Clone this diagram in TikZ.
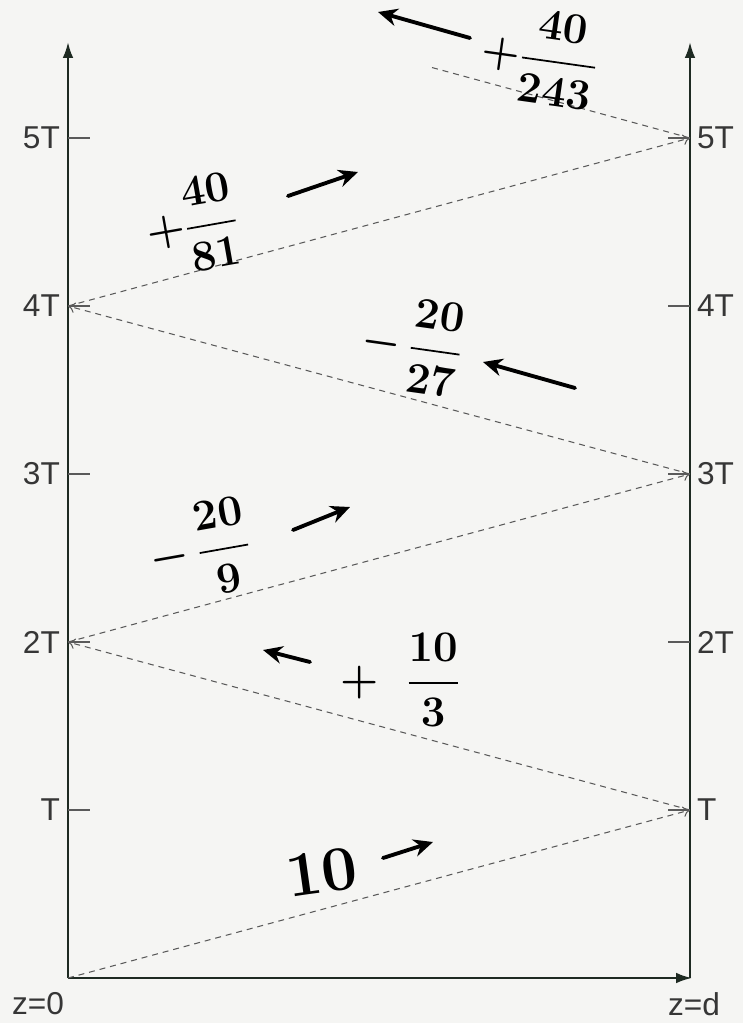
\documentclass[tikz,border=0pt]{standalone}
\usepackage{fontspec}
\setmainfont{Liberation Sans}
\usepackage{amsmath}
\usetikzlibrary{arrows.meta}
\definecolor{assi}{HTML}{1E2A22}
\definecolor{grigio}{HTML}{5A5A5A}
\definecolor{sfondo}{HTML}{F5F5F3}
\tikzset{
  asse/.style={line width=1.3pt, color=assi, -{Latex[length=9pt,width=6pt]}},
  raggio/.style={line width=0.6pt, color=grigio, dash pattern=on 3.4pt off 2.8pt},
  punta/.style={-{To[length=4pt,width=6pt]}},
  freccia/.style={line width=2.2pt, line cap=round, -{Stealth[length=11pt,width=10pt]}},
  tacca/.style={font=\fontsize{18}{20}\selectfont, color=grigio!60!black, inner sep=1pt},
  valore/.style={font=\fontsize{24}{28}\selectfont\boldmath, inner sep=0pt}
}
\begin{document}
\begin{tikzpicture}[x=0.02cm,y=-0.02cm]
        \fill[sfondo] (0,0) rectangle (743,1023);
        \useasboundingbox (0,0) rectangle (743,1023);
        % Assi
        \coordinate (O) at (68,978);
        \coordinate (D) at (692,978);
        \coordinate (Ltop) at (68,42);
        \coordinate (Rtop) at (690,42);
        \draw[asse] (O) -- (Ltop);
        \draw[asse] (690,978) -- (Rtop);
        \draw[asse] (O) -- (D);
        \node[tacca, anchor=north] (z0) at (38,990) {z=0};
        \node[tacca, anchor=north] (zd) at (694,990) {z=d};
        % Tacche e etichette dei tempi
        \foreach \k/\lab in {1/T,2/2T,3/3T,4/4T,5/5T} {
                \pgfmathsetmacro\yy{978-\k*168}
                \coordinate (L\k) at (68,\yy);
                \coordinate (R\k) at (690,\yy);
                \draw[line width=1pt, color=grigio] (L\k) -- ++(22,0);
                \draw[line width=1pt, color=grigio] (R\k) -- ++(-22,0);
                \node[tacca, anchor=east] (sx\k) at (62,\yy) {\lab};
                \node[tacca, anchor=west] (dx\k) at (695,\yy) {\lab};
            }
        % Raggi riflessi
        \coordinate (C) at (430,67);
        \draw[raggio, punta] (O) -- (R1);
        \draw[raggio, punta] (R1) -- (L2);
        \draw[raggio, punta] (L2) -- (R3);
        \draw[raggio, punta] (R3) -- (L4);
        \draw[raggio, punta] (L4) -- (R5);
        \draw[raggio] (R5) -- (C);
        % Valori dell'onda
        \node[valore, scale=1.45, rotate=8] (v1) at (322,872) {$10$};
        \draw[freccia] (383,858) -- (433,842);
        \node[valore] (v2) at (400,680) {$+\;\;\dfrac{10}{3}$};
        \draw[freccia] (310,662) -- (263,650);
        \node[valore, rotate=10] (v3) at (200,550) {$-\,\dfrac{20}{9}$};
        \draw[freccia] (293,530) -- (350,507);
        \node[valore, rotate=-8] (v4) at (412,345) {$-\,\dfrac{20}{27}$};
        \draw[freccia] (575,388) -- (483,362);
        \node[valore, rotate=10] (v5) at (192,225) {$+\dfrac{40}{81}$};
        \draw[freccia] (288,196) -- (358,172);
        \node[valore, rotate=-8] (v6) at (540,57) {$+\dfrac{40}{243}$};
        \draw[freccia] (470,38) -- (378,12);
    \end{tikzpicture}
\end{document}
